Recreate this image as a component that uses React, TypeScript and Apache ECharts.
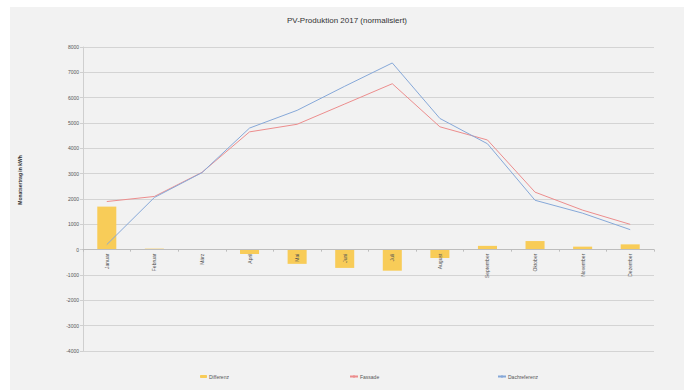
import React, { useEffect, useRef } from "react";
import * as echarts from "echarts";

const months = ["Januar", "Februar", "März", "April", "Mai", "Juni", "Juli", "August", "September", "Oktober", "November", "Dezember"];
const differenz = [1700, 40, 20, -170, -560, -720, -830, -330, 150, 340, 120, 210];
const fassade = [1900, 2100, 3050, 4650, 4950, 5750, 6550, 4850, 4330, 2270, 1560, 1000];
const dachreferenz = [200, 2060, 3040, 4800, 5500, 6450, 7370, 5180, 4180, 1950, 1440, 790];
const yMin = -4000;
const yMax = 8000;

export default function App() {
  const ref = useRef<HTMLDivElement>(null);
  useEffect(() => {
    if (!ref.current) return;
    const chart = echarts.init(ref.current, undefined, { renderer: "svg" });
    const font = "Liberation Sans";
    const gridTop = 40;
    const gridBottom = 39;
    const height = 383;
    const plotH = height - gridTop - gridBottom;
    const zeroOffset = -(plotH * (0 - yMin)) / (yMax - yMin);
    chart.setOption({
      animation: false,
      backgroundColor: "#f2f2f2",
      title: {
        text: "PV-Produktion 2017 (normalisiert)",
        left: "center",
        top: 4,
        textStyle: { fontSize: 8, fontWeight: "normal", color: "#333", fontFamily: font },
      },
      grid: { left: 73, right: 30, top: gridTop, bottom: gridBottom, containLabel: false },
      legend: [
        { data: ["Differenz"], left: 185, top: 362, itemWidth: 7, itemHeight: 3, textStyle: { fontSize: 5, color: "#555", fontFamily: font, padding: [0, 0, 0, -3] } },
        { data: ["Fassade"], left: 334, top: 362, itemWidth: 8, itemHeight: 3, textStyle: { fontSize: 5, color: "#555", fontFamily: font, padding: [0, 0, 0, -3] } },
        { data: ["Dachreferenz"], left: 482, top: 362, itemWidth: 8, itemHeight: 3, textStyle: { fontSize: 5, color: "#555", fontFamily: font, padding: [0, 0, 0, -3] } },
      ],
      graphic: [
        {
          type: "text",
          x: 10,
          y: 173,
          rotation: Math.PI / 2,
          style: {
            text: "Monatsertrag in kWh",
            fontSize: 5,
            fontWeight: "bold",
            fill: "#333",
            fontFamily: font,
            align: "center",
            verticalAlign: "middle",
          },
        },
      ],
      xAxis: {
        type: "category",
        data: months,
        position: "bottom",
        offset: zeroOffset,
        z: 5,
        axisLine: { onZero: false, lineStyle: { color: "#bdbdbd", width: 1 } },
        axisTick: { show: true, length: 2, lineStyle: { color: "#bdbdbd" } },
        axisLabel: { rotate: 90, fontSize: 5, color: "#555", fontFamily: font, margin: 4 },
      },
      yAxis: {
        type: "value",
        min: yMin,
        max: yMax,
        interval: 1000,
        axisLine: { show: true, lineStyle: { color: "#cfcfcf" } },
        axisTick: { show: true, length: 3, lineStyle: { color: "#cfcfcf" } },
        axisLabel: { fontSize: 5, color: "#555", fontFamily: font, margin: 4, formatter: (v: number) => String(v) },
        splitLine: { lineStyle: { color: "#d4d4d4", width: 1 } },
      },
      series: [
        {
          name: "Differenz",
          type: "bar",
          data: differenz,
          barWidth: "40%",
          itemStyle: { color: "#f8cc58" },
        },
        {
          name: "Fassade",
          type: "line",
          data: fassade,
          symbol: "none",
          lineStyle: { color: "#ec8d8d", width: 1 },
          itemStyle: { color: "#ec8d8d" },
        },
        {
          name: "Dachreferenz",
          type: "line",
          data: dachreferenz,
          symbol: "none",
          lineStyle: { color: "#86a8d8", width: 1 },
          itemStyle: { color: "#86a8d8" },
        },
      ],
    });
    return () => chart.dispose();
  }, []);
  return (
    <div style={{ position: "fixed", left: 0, top: 0, width: 688, height: 392, background: "#fff" }}>
      <div ref={ref} style={{ position: "absolute", left: 10, top: 7, width: 674, height: 383 }} />
    </div>
  );
}
